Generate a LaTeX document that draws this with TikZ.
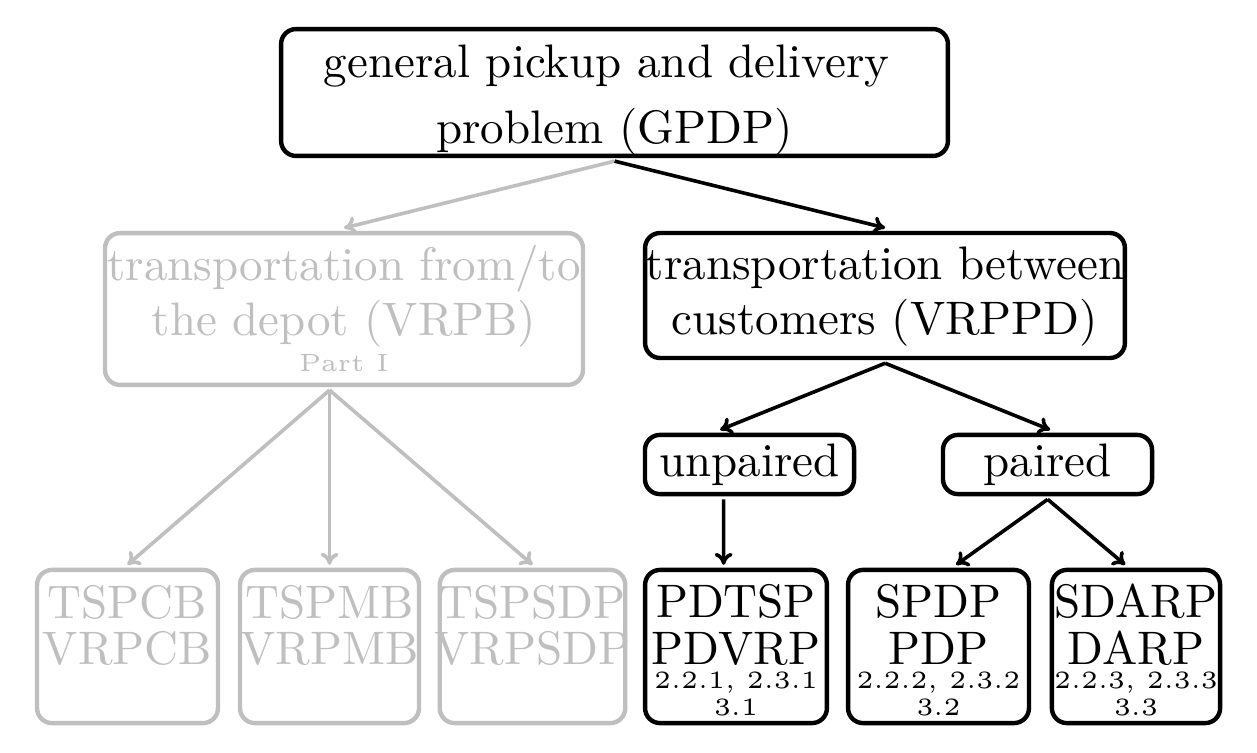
\documentclass[tikz,border=0pt]{standalone}
\usetikzlibrary{calc,arrows.meta}

\newcommand{\sm}{\fontsize{5.3}{6}\selectfont}

\tikzset{
  box/.style={draw, rounded corners=7.5pt, line width=2.2pt, inner sep=0pt, align=center},
  off/.style={draw=gray!50, text=gray!50},
  leaf/.style={box, minimum height=32.6pt, text depth=0pt},
  link/.style={-{To[length=6pt,width=9pt]}, line width=1.8pt},
}

\begin{document}
\begin{tikzpicture}[x=0.2128pt, y=-0.2128pt, scale=2.35, every node/.append style={transform shape}]
\useasboundingbox (0,0) rectangle (1257,753);

% top
\node[box, minimum width=141.9pt, minimum height=27pt, text height=24pt, text depth=2.5pt] (GPDP) at (614.5,92.5) {general pickup and delivery\hspace*{.33em}\\[2pt]problem (GPDP)};

% second level
\node[box, off, minimum width=101.7pt, minimum height=32.3pt, text height=26.4pt, text depth=0pt] (VRPB) at (344,309) {transportation from/to\\[-0.3pt]the depot (VRPB)\\[-4.34pt]{\sm Part I}};
\node[box, minimum width=102.1pt, minimum height=26.6pt, text height=19.3pt, text depth=2.5pt] (VRPPD) at (885,295.5) {transportation between\\[-0.3pt]customers (VRPPD)};

\node[box, minimum width=44.5pt, minimum height=12.6pt] (unpaired) at (749.5,464.5) {unpaired};
\node[box, minimum width=44.5pt, minimum height=12.6pt] (paired) at (1047.5,464.5) {paired};

% leaves
\node[leaf, off, minimum width=38.5pt, text height=7.87pt] (TSPCB) at (127.5,646.5) {TSPCB\\[-2pt]VRPCB};
\node[leaf, off, minimum width=38.1pt, text height=7.87pt] (TSPMB) at (329.5,646.5) {TSPMB\\[-2pt]VRPMB};
\node[leaf, off, minimum width=38.5pt, text height=7.87pt, inner xsep=-1.1pt] (TSPSDP) at (532.5,646.5) {TSPSDP\\[-2pt]VRPSDP};
\node[leaf, minimum width=38.7pt, text height=29.5pt] (PDTSP) at (736,646.5) {PDTSP\\[-2pt]PDVRP\\[-6.9pt]{\sm 2.2.1, 2.3.1}\\[-6.2pt]{\sm 3.1}};
\node[leaf, minimum width=38.5pt, text height=29.5pt] (SPDP) at (938.5,646.5) {SPDP\\[-2pt]PDP\\[-6.9pt]{\sm 2.2.2, 2.3.2}\\[-6.2pt]{\sm 3.2}};
\node[leaf, minimum width=35.8pt, text height=29.5pt] (SDARP) at (1136,646.5) {SDARP\\[-2pt]DARP\\[-6.9pt]{\sm 2.2.3, 2.3.3}\\[-6.2pt]{\sm 3.3}};

% arrows
\draw[link, gray!50] (GPDP.south) -- (VRPB.north);
\draw[link] (GPDP.south) -- (VRPPD.north);
\foreach \leaf in {TSPCB,TSPMB,TSPSDP}
  \draw[link, gray!50] (VRPB.south -| TSPMB) -- (\leaf.north);

\draw[link] (VRPPD.south) -- ($(unpaired.north)+(-29.5,0)$);
\draw[link] (VRPPD.south) -- ($(paired.north)+(2.5,0)$);
\draw[link] ($(unpaired.south)+(-26,0)$) -- ($(PDTSP.north)+(-12.5,0)$);
\draw[link] (paired.south) -- ($(SPDP.north)+(17.5,0)$);
\draw[link] (paired.south) -- ($(SDARP.north)+(-11,0)$);
\end{tikzpicture}
\end{document}
